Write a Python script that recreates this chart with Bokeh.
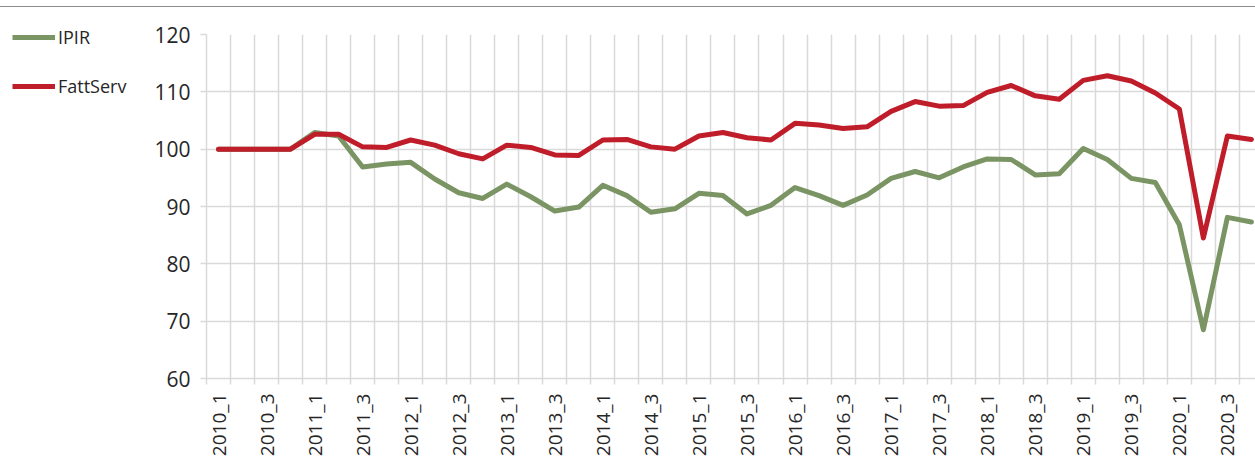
import math
from bokeh.plotting import figure
from bokeh.models import (Range1d, FixedTicker, Legend, LegendItem, Div, ColumnDataSource)
from bokeh.layouts import column, row
from bokeh.embed import file_html
from bokeh.resources import INLINE

quarters = [f"{y}_{q}" for y in range(2010, 2021) for q in range(1, 5)]

ipir = [100.0, 100.0, 100.0, 100.0,
        102.9, 102.3, 96.9, 97.4,
        97.7, 94.8, 92.4, 91.4,
        93.9, 91.7, 89.2, 89.9,
        93.7, 91.9, 89.0, 89.6,
        92.3, 91.9, 88.7, 90.2,
        93.3, 91.9, 90.2, 92.0,
        94.9, 96.1, 95.0, 96.9,
        98.3, 98.2, 95.5, 95.7,
        100.1, 98.2, 94.9, 94.2,
        86.8, 68.5, 88.1, 87.3]

fattserv = [100.0, 100.0, 100.0, 100.0,
            102.6, 102.6, 100.4, 100.3,
            101.6, 100.7, 99.2, 98.3,
            100.7, 100.3, 99.0, 98.9,
            101.6, 101.7, 100.4, 100.0,
            102.3, 102.9, 102.0, 101.6,
            104.5, 104.2, 103.6, 103.9,
            106.6, 108.3, 107.5, 107.6,
            109.9, 111.1, 109.3, 108.7,
            112.0, 112.8, 111.9, 109.8,
            107.0, 84.5, 102.3, 101.7]

y_ticks = [60, 70, 80, 90, 100, 110, 120]

GREEN = "#7a9464"
RED = "#c01d2a"
GRID = "#d9d9d9"
TEXT = "#262626"
FONT = "Open Sans"
LW = 5

idx = list(range(len(quarters)))
src = ColumnDataSource(dict(x=idx, ipir=ipir, fatt=fattserv, q=quarters))

# ---------- main chart ----------
p = figure(width=1105, height=452, output_backend="svg", toolbar_location=None,
           x_range=Range1d(-0.5, 43.17), y_range=Range1d(60, 120),
           min_border_left=56, min_border_right=0, min_border_top=27,
           min_border_bottom=79)
p.background_fill_color = "white"
p.border_fill_color = "white"
p.outline_line_color = None

p.line("x", "ipir", source=src, line_color=GREEN, line_width=LW,
       line_join="round", line_cap="round")
p.line("x", "fatt", source=src, line_color=RED, line_width=LW,
       line_join="round", line_cap="round")

label_ticks = idx[::2]
boundaries = [i - 0.5 for i in range(len(quarters) + 1)]
xt = FixedTicker(ticks=label_ticks, minor_ticks=boundaries)
p.xaxis.ticker = xt
p.xaxis.major_label_overrides = {i: quarters[i] for i in label_ticks}
p.xaxis.major_label_orientation = math.pi / 2
p.xaxis.major_tick_line_color = None
p.xaxis.major_tick_out = 6
p.xaxis.major_tick_in = 0
p.xaxis.minor_tick_line_color = GRID
p.xaxis.minor_tick_line_width = 1.5
p.xaxis.minor_tick_out = 6
p.xaxis.minor_tick_in = 0
p.xaxis.axis_line_color = GRID
p.xaxis.axis_line_width = 1.5
p.xaxis.major_label_standoff = 9
p.xaxis.major_label_text_font = FONT
p.xaxis.major_label_text_font_size = "19px"
p.xaxis.major_label_text_color = TEXT

p.xgrid.ticker = xt
p.xgrid.grid_line_color = None
p.xgrid.minor_grid_line_color = GRID
p.xgrid.minor_grid_line_width = 1.5

p.yaxis.ticker = FixedTicker(ticks=y_ticks)
p.yaxis.axis_line_color = GRID
p.yaxis.axis_line_width = 1.5
p.yaxis.major_tick_line_color = GRID
p.yaxis.major_tick_line_width = 1.5
p.yaxis.major_tick_out = 6
p.yaxis.major_tick_in = 0
p.yaxis.minor_tick_line_color = None
p.yaxis.major_label_standoff = 10
p.yaxis.major_label_text_font = FONT
p.yaxis.major_label_text_font_size = "21px"
p.yaxis.major_label_text_color = TEXT
p.ygrid.grid_line_color = GRID
p.ygrid.grid_line_width = 1.5

# ---------- legend panel (same series, drawn off-range so only the legend shows) ----------
lg = figure(width=150, height=452, output_backend="svg", toolbar_location=None,
            title=None, x_axis_type=None, y_axis_type=None,
            x_range=Range1d(1000, 1001), y_range=Range1d(1000, 1001),
            min_border=0)
lg.outline_line_color = None
lg.background_fill_color = "white"
lg.border_fill_color = "white"
lg.grid.grid_line_color = None
l1 = lg.line("x", "ipir", source=src, line_color=GREEN, line_width=LW)
l2 = lg.line("x", "fatt", source=src, line_color=RED, line_width=LW)

legend = Legend(items=[LegendItem(label="IPIR", renderers=[l1]),
                       LegendItem(label="FattServ", renderers=[l2])],
                location="top_left", orientation="vertical",
                glyph_width=43, glyph_height=36, spacing=13,
                label_standoff=3, padding=0, margin=12,
                border_line_color=None, background_fill_alpha=0,
                label_text_font=FONT, label_text_font_size="18px",
                label_text_color=TEXT)
lg.add_layout(legend)

top_rule = Div(text="", width=1255, height=7, margin=(0, 0, 0, 0),
               styles={"border-bottom": "1.5px solid #8c8c8c", "box-sizing": "border-box"})

layout = column(top_rule, row(column(lg, spacing=0), p, spacing=0), spacing=0)

with open("out.html", "w") as f:
    f.write(file_html(layout, INLINE))
